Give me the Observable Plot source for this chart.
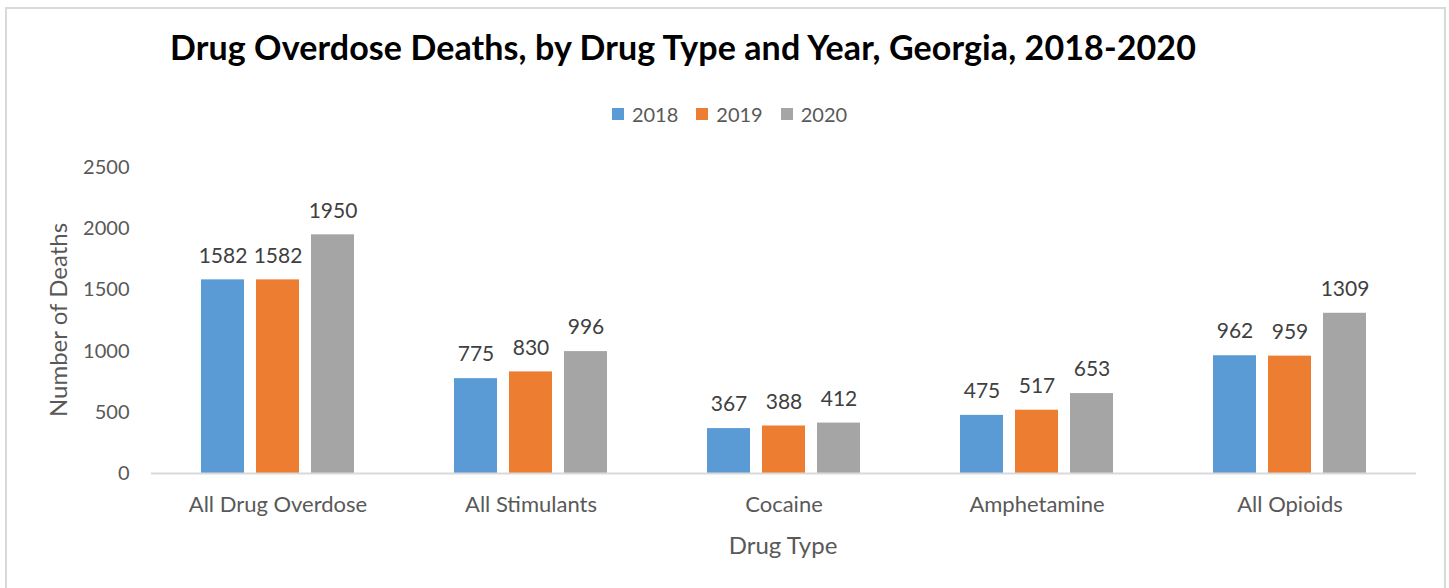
<!DOCTYPE html>
<html>
<head>
<meta charset="utf-8">
<script src="https://cdn.jsdelivr.net/npm/d3@7"></script>
<script src="https://cdn.jsdelivr.net/npm/@observablehq/plot@0.6"></script>
<style>
  body { margin: 0; background: #fff; font-family: Lato, "Open Sans", sans-serif; }
  #frame { position: absolute; left: 5px; top: 7px; width: 1441px; height: 600px; border: 2px solid #d9d9d9; box-sizing: border-box; }
  #title { position: absolute; left: 170px; top: 30px; font-size: 34px; line-height: 1; font-weight: bold; color: #000; white-space: nowrap; letter-spacing: 0.1px; }
  #legend { position: absolute; left: 0; width: 1459px; top: 102px; display: flex; justify-content: center; font-size: 20px; color: #595959; }
  .item { display: flex; align-items: center; margin: 0 9px; }
  .sw { width: 12px; height: 12px; margin-right: 8px; }
  #chart { position: absolute; left: 0; top: 140px; }
  #ylabel { position: absolute; left: 57px; top: 320px; transform: translate(-50%, -50%) rotate(-90deg); font-size: 24px; color: #595959; white-space: nowrap; }
  #xlabel { position: absolute; left: 783px; top: 544px; transform: translate(-50%, -50%); font-size: 24px; color: #595959; white-space: nowrap; }
</style>
</head>
<body>
<div id="frame"></div>
<div id="title">Drug Overdose Deaths, by Drug Type and Year, Georgia, 2018-2020</div>
<div id="legend"></div>
<div id="chart"></div>
<div id="ylabel">Number of Deaths</div>
<div id="xlabel">Drug Type</div>
<script>
const categories = ["All Drug Overdose", "All Stimulants", "Cocaine", "Amphetamine", "All Opioids"];
const years = ["2018", "2019", "2020"];
const values2018 = [1582, 775, 367, 475, 962];
const values2019 = [1582, 830, 388, 517, 959];
const values2020 = [1950, 996, 412, 653, 1309];
const colors = ["#5B9BD5", "#ED7D31", "#A5A5A5"];
const yTicks = [0, 500, 1000, 1500, 2000, 2500];

const series = [values2018, values2019, values2020];
const data = [];
categories.forEach((c, i) => {
  years.forEach((y, j) => data.push({category: c, year: y, value: series[j][i]}));
});

const legend = document.getElementById("legend");
years.forEach((y, j) => {
  const it = document.createElement("div");
  it.className = "item";
  it.innerHTML = `<span class="sw" style="background:${colors[j]}"></span><span>${y}</span>`;
  legend.appendChild(it);
});

const chart = Plot.plot({
  width: 1449,
  height: 440,
  marginTop: 27,
  marginBottom: 107,
  marginLeft: 151,
  marginRight: 33,
  style: { fontFamily: "Lato, 'Open Sans', sans-serif", fontSize: "20px", color: "#595959", background: "transparent" },
  fx: { domain: categories, padding: 0, label: null },
  x: { domain: years, paddingInner: 0.214, paddingOuter: 0.866, axis: null },
  y: { domain: [0, 2500], ticks: yTicks, label: null },
  color: { domain: years, range: colors },
  marks: [
    Plot.axisY({ ticks: yTicks, tickFormat: d3.format("d"), tickSize: 0, tickPadding: 22, label: null, fontSize: 20 }),
    Plot.axisFx({ anchor: "bottom", tickSize: 0, tickPadding: 23, label: null, fontSize: 22 }),
    Plot.barY(data, { fx: "category", x: "year", y: "value", fill: "year" }),
    Plot.ruleY([0], { stroke: "#d9d9d9", strokeWidth: 2 }),
    Plot.text(data, { fx: "category", x: "year", y: "value", text: d => String(d.value), dy: -24, fill: "#404040", fontSize: 21 })
  ]
});
document.getElementById("chart").appendChild(chart);
</script>
</body>
</html>
